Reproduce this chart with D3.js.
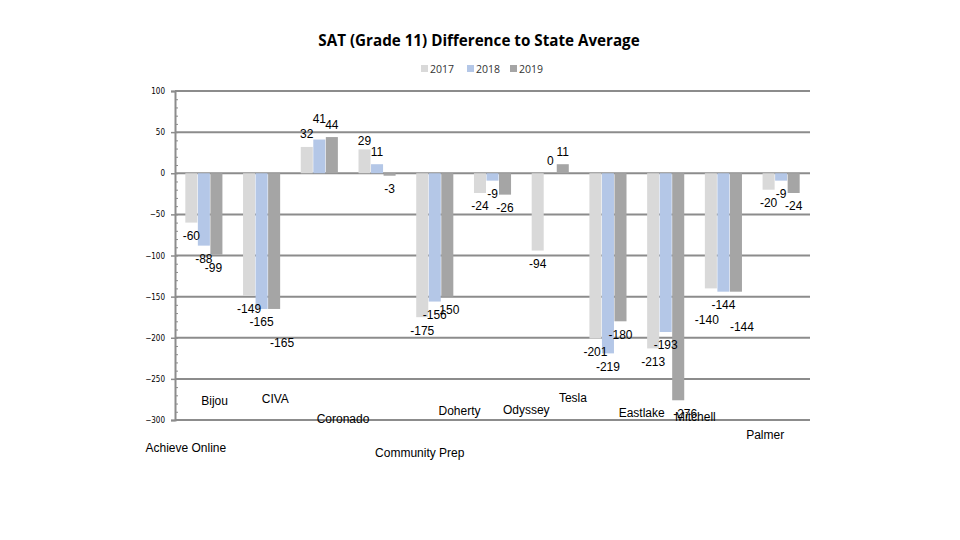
<!DOCTYPE html>
<html>
<head>
<meta charset="utf-8">
<script src="https://cdn.jsdelivr.net/npm/d3@7"></script>
<style>
  body { margin: 0; background: #fff; }
  svg text { font-family: "Liberation Sans", Arial, sans-serif; fill: #000; }
</style>
</head>
<body>
<div id="chart"></div>
<script>
//chart values
var categories = ["Achieve Online", "Bijou", "CIVA", "Coronado", "Community Prep", "Doherty",
  "Odyssey", "Tesla", "Eastlake", "Mitchell", "Palmer"];
var seriesNames = ["2017", "2018", "2019"];
var values2017 = [-60, -149, 32, 29, -175, -24, -94, -201, -213, -140, -20];
var values2018 = [-88, -165, 41, 11, -156, -9, 0, -219, -193, -144, -9];
var values2019 = [-99, -165, 44, -3, -150, -26, 11, -180, -276, -144, -24];
var yTicks = [100, 50, 0, -50, -100, -150, -200, -250, -300];

//layout only: where each category name sits (offset from band centre, baseline y)
var labelDx = [-18, -47, -44, -34, -15, -33, -24, -35, -24, -28, -16];
var labelY = [452, 405, 403, 423, 457, 415, 414, 402, 417, 421, 439];
//layout only: value labels that were pushed aside so they don't collide
var labelNudges = [
  { c: 1, s: 2, dx: 8, dy: 21 },
  { c: 2, s: 1, dx: 0, dy: -8 },
  { c: 3, s: 0, dx: 0, dy: 4 },
  { c: 8, s: 2, dx: 7, dy: 0 },
  { c: 9, s: 0, dx: -4, dy: 18 },
  { c: 9, s: 2, dx: 6, dy: 22 },
  { c: 0, s: 2, dx: -3, dy: 0 }
];

var colors = ["#d9d9d9", "#b4c7e7", "#a5a5a5"];
var width = 960, height = 540;
//plot area (note: "top" is reserved on window, so use plot* names)
var plotLeft = 175, plotRight = 810, plotTop = 91, plotBottom = 420;

var svg = d3.select("#chart").append("svg")
  .attr("width", width)
  .attr("height", height);

var x0 = d3.scaleBand().domain(categories).range([plotLeft, plotRight])
  .paddingInner(0.34).paddingOuter(0.17);
var x1 = d3.scaleBand().domain(seriesNames).range([0, x0.bandwidth()]).padding(0.04);
var y = d3.scaleLinear().domain([-300, 100]).range([plotBottom, plotTop]);

//title
svg.append("text")
  .attr("x", 479).attr("y", 46)
  .attr("text-anchor", "middle")
  .style("font-family", "'Open Sans', sans-serif")
  .style("font-weight", "bold")
  .style("font-size", "15.2px")
  .text("SAT (Grade 11) Difference to State Average");

//legend
var legendX = [421, 467, 510];
seriesNames.forEach(function(s, i) {
  var g = svg.append("g").attr("transform", "translate(" + legendX[i] + ",69)");
  g.append("rect").attr("x", 0).attr("y", -4).attr("width", 7).attr("height", 7).attr("fill", colors[i]);
  g.append("text").attr("x", 9).attr("y", 4)
    .style("font-family", "'Open Sans', sans-serif")
    .style("font-size", "10.5px")
    .style("fill", "#333")
    .text(s);
});

//gridlines
svg.append("g")
  .selectAll("line")
  .data(yTicks)
  .enter()
  .append("line")
  .attr("x1", plotLeft).attr("x2", plotRight)
  .attr("y1", function(d) { return y(d); })
  .attr("y2", function(d) { return y(d); })
  .attr("stroke", "#8c8c8c")
  .attr("stroke-width", 2);

//y axis with minor ticks
var axis = svg.append("g").attr("transform", "translate(" + plotLeft + ",0)")
  .call(d3.axisLeft(y).tickValues(yTicks).tickSize(4).tickPadding(6));
axis.select(".domain").attr("stroke", "#8c8c8c").attr("stroke-width", 2);
axis.selectAll(".tick line").attr("stroke", "#8c8c8c").attr("stroke-width", 1.5);
axis.selectAll(".tick text")
  .style("font-family", "'DejaVu Sans Condensed', 'DejaVu Sans', sans-serif")
  .style("font-size", "8px")
  .attr("fill", "#000");
svg.append("g").attr("transform", "translate(" + plotLeft + ",0)")
  .call(d3.axisRight(y).tickValues(d3.range(-300, 101, 10)).tickSize(3).tickFormat(""))
  .call(function(g) { g.select(".domain").remove(); })
  .selectAll(".tick line").attr("stroke", "#8c8c8c");

//bars
var allSeries = [values2017, values2018, values2019];
function groupData(c, i) {
  return seriesNames.map(function(s, j) {
    var n = labelNudges.find(function(k) { return k.c === i && k.s === j; });
    return { s: s, j: j, v: allSeries[j][i], dx: n ? n.dx : 0, dy: n ? n.dy : 0 };
  });
}

var groups = svg.append("g")
  .selectAll("g")
  .data(categories)
  .enter()
  .append("g")
  .attr("transform", function(c) { return "translate(" + x0(c) + ",0)"; });

groups.selectAll("rect")
  .data(groupData)
  .enter()
  .append("rect")
  .attr("x", function(d) { return x1(d.s); })
  .attr("width", x1.bandwidth())
  .attr("y", function(d) { return y(Math.max(0, d.v)); })
  .attr("height", function(d) { return Math.abs(y(d.v) - y(0)); })
  .attr("fill", function(d) { return colors[d.j]; });

//data labels
groups.selectAll("text")
  .data(groupData)
  .enter()
  .append("text")
  .attr("x", function(d) { return x1(d.s) + x1.bandwidth() / 2 + d.dx; })
  .attr("y", function(d) { return (d.v < 0 ? y(d.v) + 17.5 : y(d.v) - 8.5) + d.dy; })
  .attr("text-anchor", "middle")
  .style("font-size", "12px")
  .text(function(d) { return d.v; });

//category names
svg.append("g")
  .selectAll("text")
  .data(categories)
  .enter()
  .append("text")
  .attr("x", function(c, i) { return x0(c) + x0.bandwidth() / 2 + labelDx[i]; })
  .attr("y", function(c, i) { return labelY[i]; })
  .attr("text-anchor", "middle")
  .style("font-size", "12px")
  .text(function(c) { return c; });
</script>
</body>
</html>
